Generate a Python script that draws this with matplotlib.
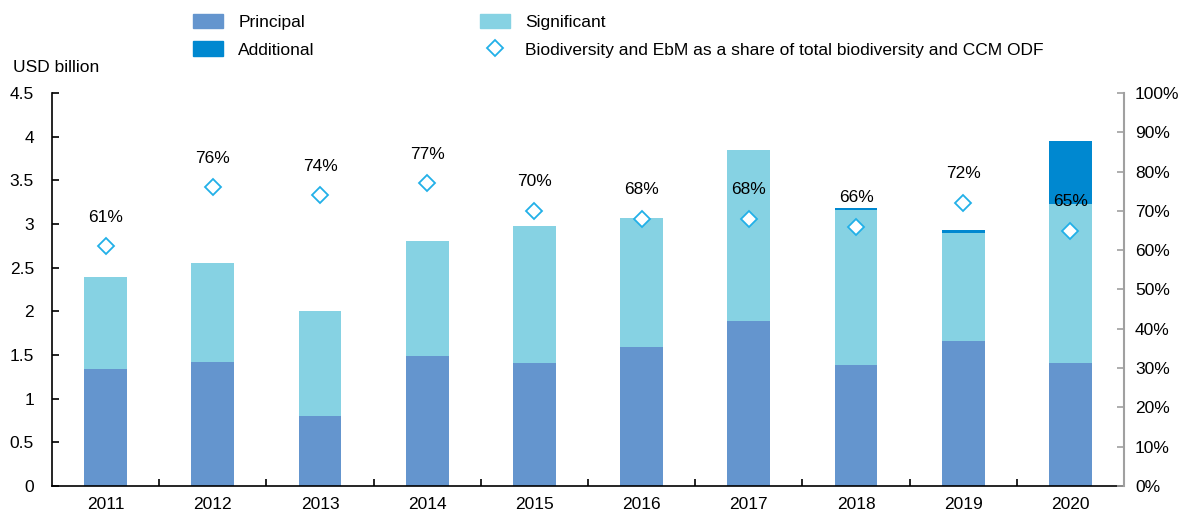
import numpy as np
import matplotlib
matplotlib.use("Agg")
import matplotlib.pyplot as plt
import matplotlib.patches as mpatches
from matplotlib.lines import Line2D

plt.rcParams['font.family'] = ['Liberation Sans', 'DejaVu Sans']
plt.rcParams['font.size'] = 12.5

# data
years = ['2011', '2012', '2013', '2014', '2015', '2016', '2017', '2018', '2019', '2020']
principal = [1.34, 1.42, 0.80, 1.49, 1.41, 1.59, 1.89, 1.38, 1.66, 1.41]
significant = [1.05, 1.13, 1.20, 1.32, 1.57, 1.48, 1.96, 1.78, 1.24, 1.82]
additional = [0, 0, 0, 0, 0, 0, 0, 0.02, 0.03, 0.72]
share = [61, 76, 74, 77, 70, 68, 68, 66, 72, 65]

c_princ = '#6495CE'
c_sig = '#86D2E3'
c_add = '#0088D0'
c_dia = '#22B0E8'

fig = plt.figure(figsize=(11.9, 5.14), dpi=100)
ax = fig.add_axes([52 / 1190, 1 - 486 / 514, (1124 - 52) / 1190, (486 - 93) / 514])

x = np.arange(len(years))
w = 0.4
principal = np.array(principal)
significant = np.array(significant)
additional = np.array(additional)
ax.bar(x, principal, w, color=c_princ, linewidth=0)
ax.bar(x, significant, w, bottom=principal, color=c_sig, linewidth=0)
ax.bar(x, additional, w, bottom=principal + significant, color=c_add, linewidth=0)

ax.set_xlim(-0.5, len(years) - 0.5)
ax.set_ylim(0, 4.5)
ax.set_yticks(np.arange(0, 4.51, 0.5))
ax.set_yticklabels(['0', '0.5', '1', '1.5', '2', '2.5', '3', '3.5', '4', '4.5'])
ax.set_xticks(x)
ax.set_xticklabels(years)
ax.set_xticks(np.arange(0.5, len(years), 1), minor=True)
ax.tick_params(axis='x', which='major', length=0, pad=8)
ax.tick_params(axis='x', which='minor', direction='in', length=5, width=1.2, color='black')
ax.tick_params(axis='y', direction='in', length=5, width=1.2, pad=13)
ax.spines['top'].set_visible(False)
ax.spines['right'].set_visible(False)
ax.spines['left'].set_linewidth(1.2)
ax.spines['bottom'].set_linewidth(1.2)

ax2 = ax.twinx()
ax2.set_ylim(0, 100)
ax2.set_yticks(np.arange(0, 101, 10))
ax2.set_yticklabels([f'{v}%' for v in range(0, 101, 10)])
ax2.tick_params(axis='y', direction='in', length=5, width=1.2, color='#A0A0A0', pad=8)
for s in ['top', 'left', 'bottom']:
    ax2.spines[s].set_visible(False)
ax2.spines['right'].set_color('#A0A0A0')
ax2.spines['right'].set_linewidth(1.5)

ax2.plot(x, share, linestyle='none', marker='D', markersize=8, markerfacecolor='white',
         markeredgecolor=c_dia, markeredgewidth=1.3, zorder=5)
for xi, s in zip(x, share):
    ax2.annotate(f'{s}%', (xi, s), xytext=(0, 21), textcoords='offset points',
                 ha='center', va='center', fontsize=12.5)

fig.text(13 / 1190, 1 - 68 / 514, 'USD billion', ha='left', va='center', fontsize=12.5)

handles = [mpatches.Patch(color=c_princ, label='Principal'),
           mpatches.Patch(color=c_add, label='Additional'),
           mpatches.Patch(color=c_sig, label='Significant'),
           Line2D([], [], linestyle='none', marker='D', markersize=8, markerfacecolor='white',
                  markeredgecolor=c_dia, markeredgewidth=1.3,
                  label='Biodiversity and EbM as a share of total biodiversity and CCM ODF')]
fig.legend(handles=handles, ncol=2, loc='upper left', bbox_to_anchor=(193 / 1190, 1 - 14 / 514),
           frameon=False, borderpad=0, borderaxespad=0, handlelength=1.75, handleheight=0.9,
           handletextpad=0.85, labelspacing=0.65, columnspacing=9.5, fontsize=12.5)

fig.savefig('out.png', dpi=100)
